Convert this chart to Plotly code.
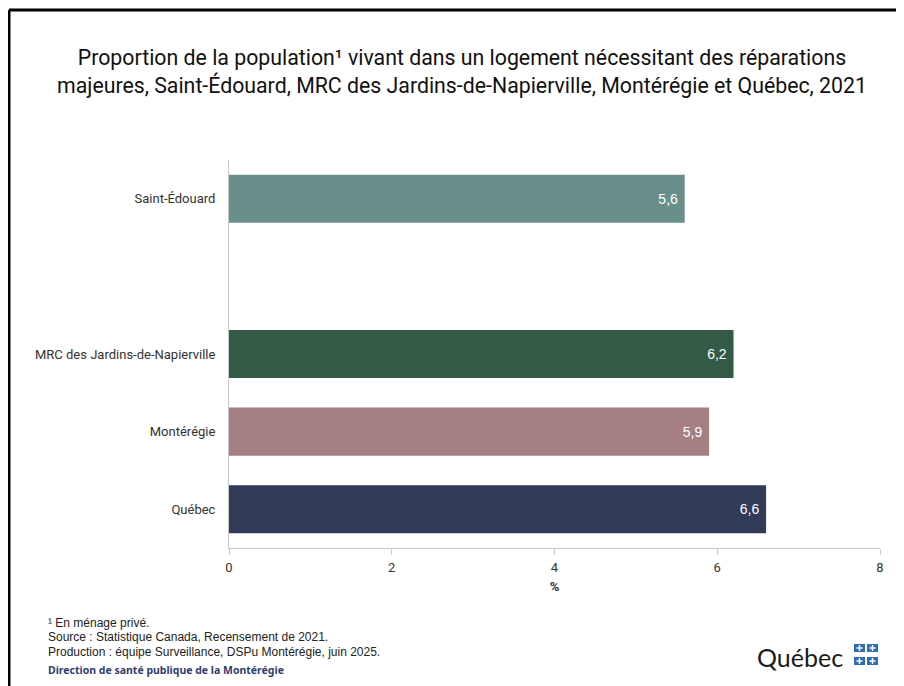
import plotly.graph_objects as go

# ---- data ----
categories = ["Québec", "Montérégie", "MRC des Jardins-de-Napierville", " ", "Saint-Édouard"]
values = [6.6, 5.9, 6.2, None, 5.6]
value_labels = ["6,6", "5,9", "6,2", "", "5,6"]
bar_colors = ["#313a56", "#a57f84", "#335a45", "#ffffff", "#6a8f8a"]
x_ticks = [0, 2, 4, 6, 8]

# page body has an 8px margin; work in reference-screen pixels and offset
OFF = 8
W, H = 904 - OFF, 686 - OFF
L, R, T, B = 229, 880, 160, 548  # reference-screen plot area


def px(x):
    return (x - L) / (R - L)


def py(y):
    return (B - y) / (B - T)


fig = go.Figure()
fig.add_trace(go.Bar(
    y=categories,
    x=values,
    orientation="h",
    marker=dict(color=bar_colors, line=dict(width=0)),
    width=0.62,
    text=value_labels,
    texttemplate="%{text} ",
    textposition="inside",
    insidetextanchor="end",
    textfont=dict(color="white", size=14, family="Liberation Sans"),
    cliponaxis=False,
    hoverinfo="skip",
))

fig.update_layout(
    width=W, height=H,
    margin=dict(l=L - OFF, r=W - (R - OFF), t=T - OFF, b=H - (B - OFF), pad=0),
    paper_bgcolor="white",
    plot_bgcolor="white",
    showlegend=False,
    title=dict(
        text="Proportion de la population¹ vivant dans un logement nécessitant des réparations<br>"
             "majeures, Saint-Édouard, MRC des Jardins-de-Napierville, Montérégie et Québec, 2021",
        x=(462 - OFF) / W, xanchor="center", xref="container",
        y=1 - (65 - OFF) / H, yanchor="middle", yref="container",
        font=dict(family="Roboto", size=21.3, color="#111111"),
    ),
    xaxis=dict(
        range=[0, 8],
        tickvals=x_ticks,
        ticktext=[str(v) for v in x_ticks],
        showgrid=False,
        zeroline=False,
        showline=True, linecolor="#c8c8c8", linewidth=1,
        ticks="outside", ticklen=6, tickcolor="#c8c8c8",
        ticklabelstandoff=1,
        tickfont=dict(family="Roboto", size=13, color="#333333"),
        title=dict(text="<b>%</b>", font=dict(family="Roboto", size=13, color="#333333"), standoff=8),
        fixedrange=True,
    ),
    yaxis=dict(
        type="category",
        categoryorder="array",
        categoryarray=categories,
        range=[-0.5, 4.5],
        showgrid=False,
        zeroline=False,
        showline=True, linecolor="#c8c8c8", linewidth=1,
        ticks="", ticklabelstandoff=10,
        tickfont=dict(family="Roboto", size=13, color="#333333"),
        fixedrange=True,
    ),
)

# footnotes
notes = [
    ("¹ En ménage privé.", 623),
    ("Source : Statistique Canada, Recensement de 2021.", 637),
    ("Production : équipe Surveillance, DSPu Montérégie, juin 2025.", 652),
]
for txt, y in notes:
    fig.add_annotation(
        text=txt, xref="paper", yref="paper", x=px(46), y=py(y),
        xanchor="left", yanchor="middle", showarrow=False,
        font=dict(family="Liberation Sans", size=12, color="#222222"),
    )
fig.add_annotation(
    text="<b>Direction de santé publique de la Montérégie</b>",
    xref="paper", yref="paper", x=px(46), y=py(670),
    xanchor="left", yanchor="middle", showarrow=False,
    font=dict(family="Noto Sans", size=10.5, color="#2e3f6e"),
)

# Québec logo
fig.add_annotation(
    text="Québec", xref="paper", yref="paper", x=px(845), y=py(657),
    xanchor="right", yanchor="middle", showarrow=False,
    font=dict(family="Lato", size=25, color="#1a1a1a"),
)
for (x0, x1) in [(854, 865), (867, 878)]:
    for (y0, y1) in [(644, 652), (657, 665)]:
        fig.add_shape(type="rect", xref="paper", yref="paper",
                      x0=px(x0), x1=px(x1), y0=py(y1), y1=py(y0),
                      fillcolor="#2f6db5", line=dict(width=0))
        cx = (x0 + x1) / 2
        cy = (y0 + y1) / 2
        fig.add_shape(type="line", xref="paper", yref="paper",
                      x0=px(cx - 3), x1=px(cx + 3), y0=py(cy), y1=py(cy),
                      line=dict(color="white", width=1.5))
        fig.add_shape(type="line", xref="paper", yref="paper",
                      x0=px(cx), x1=px(cx), y0=py(cy - 3), y1=py(cy + 3),
                      line=dict(color="white", width=1.5))

# frame (top and left edges)
fig.add_shape(type="line", xref="paper", yref="paper",
              x0=px(9), x1=px(904), y0=py(10), y1=py(10),
              line=dict(color="black", width=3))
fig.add_shape(type="line", xref="paper", yref="paper",
              x0=px(9), x1=px(9), y0=py(10), y1=py(686),
              line=dict(color="black", width=3))

fig.write_html("out.html")
